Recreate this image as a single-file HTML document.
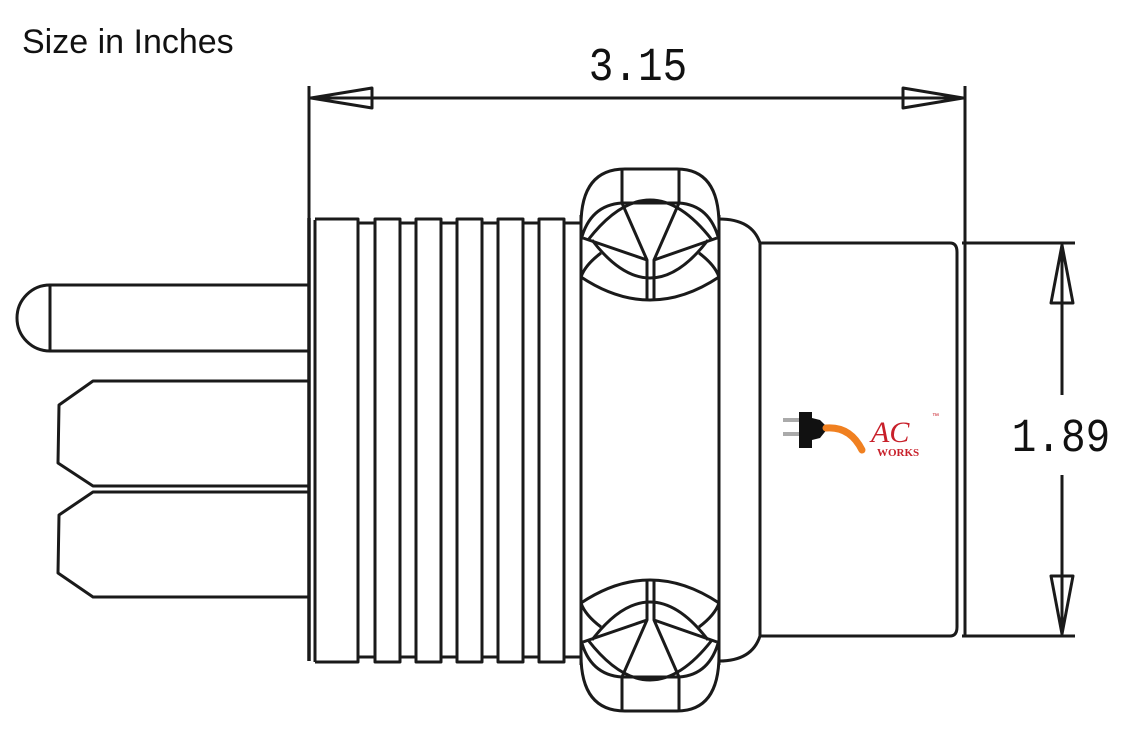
<!DOCTYPE html>
<html><head><style>
html,body{margin:0;padding:0;background:#fff;}
</style></head><body>
<svg width="1127" height="748" viewBox="0 0 1127 748" xmlns="http://www.w3.org/2000/svg" style="display:block">
<rect width="1127" height="748" fill="#fff"/>
<text x="22" y="53" font-family="Liberation Sans, sans-serif" font-size="34" fill="#111">Size in Inches</text>
<g fill="none" stroke="#1a1a1a" stroke-width="3" stroke-linejoin="round">
<line x1="309" y1="86" x2="309" y2="218"/>
<line x1="965" y1="86" x2="965" y2="243"/>
<line x1="310" y1="98" x2="964" y2="98"/>
<path d="M311,98 L372,88 L372,108 Z"/>
<path d="M963,98 L903,88 L903,108 Z"/>
<line x1="962" y1="243" x2="1075" y2="243"/>
<line x1="962" y1="636" x2="1075" y2="636"/>
<line x1="1062" y1="245" x2="1062" y2="395"/>
<line x1="1062" y1="475" x2="1062" y2="634"/>
<path d="M1062,245 L1051,303 L1073,303 Z"/>
<path d="M1062,634 L1051,576 L1073,576 Z"/>
<path d="M308,285 L50,285 L50,351 L308,351"/>
<path d="M50,285 A33,33 0 0 0 50,351"/>
<path d="M308,381 L93,381 L59,405 L58,463 L93,486 L308,486"/>
<path d="M308,492 L93,492 L59,515 L58,573 L93,597 L308,597"/>
<line x1="309" y1="218" x2="309" y2="661" stroke-width="3.5"/>
<line x1="315" y1="220" x2="315" y2="662"/>
<path d="M315,219 L358,219 L358,662 L315,662"/>
<path d="M358,223 L375,223 L375,219 L400,219 L400,223 L416,223 L416,219 L441,219 L441,223 L457,223 L457,219 L482,219 L482,223 L498,223 L498,219 L523,219 L523,223 L539,223 L539,219 L564,219 L564,223 L581,223"/>
<path d="M358,657 L375,657 L375,662 L400,662 L400,657 L416,657 L416,662 L441,662 L441,657 L457,657 L457,662 L482,662 L482,657 L498,657 L498,662 L523,662 L523,657 L539,657 L539,662 L564,662 L564,657 L581,657"/>
<line x1="375" y1="219" x2="375" y2="662"/><line x1="400" y1="219" x2="400" y2="662"/>
<line x1="416" y1="219" x2="416" y2="662"/><line x1="441" y1="219" x2="441" y2="662"/>
<line x1="457" y1="219" x2="457" y2="662"/><line x1="482" y1="219" x2="482" y2="662"/>
<line x1="498" y1="219" x2="498" y2="662"/><line x1="523" y1="219" x2="523" y2="662"/>
<line x1="539" y1="219" x2="539" y2="662"/><line x1="564" y1="219" x2="564" y2="662"/>
<line x1="581" y1="215" x2="581" y2="665"/>
<line x1="719" y1="215" x2="719" y2="665"/>
<g id="rtop">
<path d="M581,225 Q581,169 625,169 L677,169 Q719,169 719,225"/>
<path d="M622,169 L622,203 L679,203 L679,169"/>
<path d="M581,240 Q590,205 622,203"/>
<path d="M719,240 Q710,205 679,203"/>
<path d="M588,240 Q650,160 712,240"/>
<path d="M583,238 L647,260 L622,203"/>
<path d="M717,238 L654,260 L679,203"/>
<path d="M592,240 Q650,316 708,240"/>
<path d="M581,277 Q650,323 719,277"/>
<path d="M601,253 Q585,265 581,277"/>
<path d="M699,253 Q715,265 719,277"/>
<line x1="647" y1="260" x2="647" y2="300"/>
<line x1="654" y1="260" x2="654" y2="300"/>
</g>
<use href="#rtop" transform="translate(0,880) scale(1,-1)"/>
<path d="M719,219 Q752,219 760,243"/>
<path d="M719,661 Q752,661 760,636"/>
<line x1="760" y1="243" x2="760" y2="636"/>
<path d="M760,243 L950,243 Q957,243 957,252 L957,627 Q957,636 950,636 L760,636"/>
<line x1="965" y1="243" x2="965" y2="636"/>
</g>
<text transform="translate(638,80) scale(1,1.15)" text-anchor="middle" font-family="Liberation Mono, monospace" font-size="41" fill="#111">3.15</text>
<text transform="translate(1061,451) scale(1,1.15)" text-anchor="middle" font-family="Liberation Mono, monospace" font-size="41" fill="#111">1.89</text>
<g>
<rect x="783" y="418" width="16" height="4" fill="#aaa"/>
<rect x="783" y="432" width="16" height="4" fill="#aaa"/>
<path d="M799,412 L812,412 L812,418 L820,420 L828,428 L820,438 L812,440 L812,448 L799,448 Z" fill="#111"/>
<path d="M826,428 Q850,426 862,450" fill="none" stroke="#f08020" stroke-width="7" stroke-linecap="round"/>
<text x="871" y="442" font-family="Liberation Serif, serif" font-style="italic" font-size="30" fill="#c8202a">AC</text>
<text x="877" y="456" font-family="Liberation Serif, serif" font-weight="bold" font-size="11" fill="#c8202a">WORKS</text>
<text x="932" y="418" font-family="Liberation Sans, sans-serif" font-size="7" fill="#c8202a">™</text>
</g>
</svg>
</body></html>
